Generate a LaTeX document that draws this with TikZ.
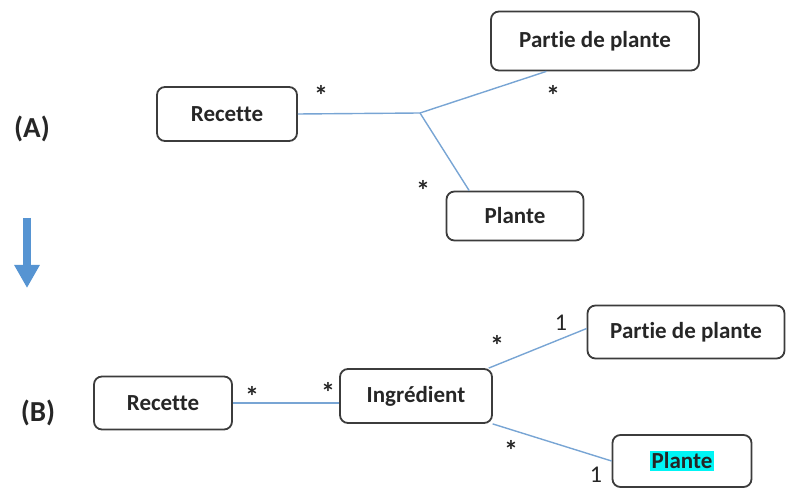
\documentclass[tikz,border=0pt]{standalone}
\usepackage{fontspec}
\setmainfont{Carlito}[Ligatures=NoCommon]
\usepackage{tikz}
\usetikzlibrary{arrows.meta,positioning}
\definecolor{linkblue}{RGB}{120,165,212}
\definecolor{arrowblue}{RGB}{86,148,210}
\definecolor{boxgray}{RGB}{60,60,60}
\definecolor{hilite}{RGB}{0,245,245}

\begin{document}
\begin{tikzpicture}[
  x=0.5pt, y=-0.5pt,
  font=\fontsize{11.5}{14}\selectfont\bfseries,
  cls/.style={draw=boxgray, line width=0.9pt, rounded corners=4pt, inner sep=0pt, text=black!85},
  assoc/.style={linkblue, line width=0.7pt},
  mult/.style={inner sep=0pt, text=black!85, font=\fontsize{14}{14}\selectfont\bfseries},
  one/.style={inner sep=0pt, text=black!85, font=\fontsize{12}{14}\selectfont},
  tag/.style={inner sep=0pt, text=black!85, font=\fontsize{14.5}{16}\selectfont\bfseries}
]
\useasboundingbox (0,0) rectangle (787,491);

\node[tag] (labA) at (32,129) {(A)};
\node[cls, minimum width=70pt, minimum height=27pt] (recA) at (227,114) {Recette};
\node[cls, minimum width=104pt, minimum height=29.5pt] (partA) at (595,41) {Partie de plante};
\node[cls, minimum width=68.5pt, minimum height=24.5pt] (plantA) at (515,216) {Plante};
\coordinate (jA) at (420,113);
\draw[assoc] (recA.east) -- (jA);
\draw[assoc] (jA) -- (partA.212);
\draw[assoc] (jA) -- (plantA.151);
\node[mult] (mA1) at (321,95) {*};
\node[mult] (mA2) at (553,95) {*};
\node[mult] (mA3) at (423,190) {*};

\coordinate (arTop) at (27,218);
\coordinate (arEnd) at (27,288);
\draw[arrowblue, line width=4pt, -{Triangle[width=12pt,length=11.5pt]}] (arTop) -- (arEnd);

\node[tag] (labB) at (38,413) {(B)};
\node[cls, minimum width=69pt, minimum height=26.5pt] (recB) at (163,403) {Recette};
\node[cls, minimum width=76pt, minimum height=27pt] (ingB) at (416,396) {Ingrédient};
\node[cls, minimum width=98.5pt, minimum height=26.5pt] (partB) at (686,332) {Partie de plante};
\node[cls, minimum width=69.5pt, minimum height=26pt] (plantB) at (682,461) {\setlength{\fboxsep}{0.8pt}\colorbox{hilite}{Plante}};
\draw[assoc] (recB.east) -- (recB.east -| ingB.west);
\draw[assoc] (ingB.21.5) -- (partB.178);
\draw[assoc] (ingB.-20) -- (plantB.west);
\node[mult] (mB1) at (252,396) {*};
\node[mult] (mB2) at (328,392) {*};
\node[mult] (mB3) at (497,345) {*};
\node[one] (oB1) at (561,323) {1};
\node[mult] (mB4) at (511,450) {*};
\node[one] (oB2) at (596,475) {1};
\end{tikzpicture}
\end{document}
